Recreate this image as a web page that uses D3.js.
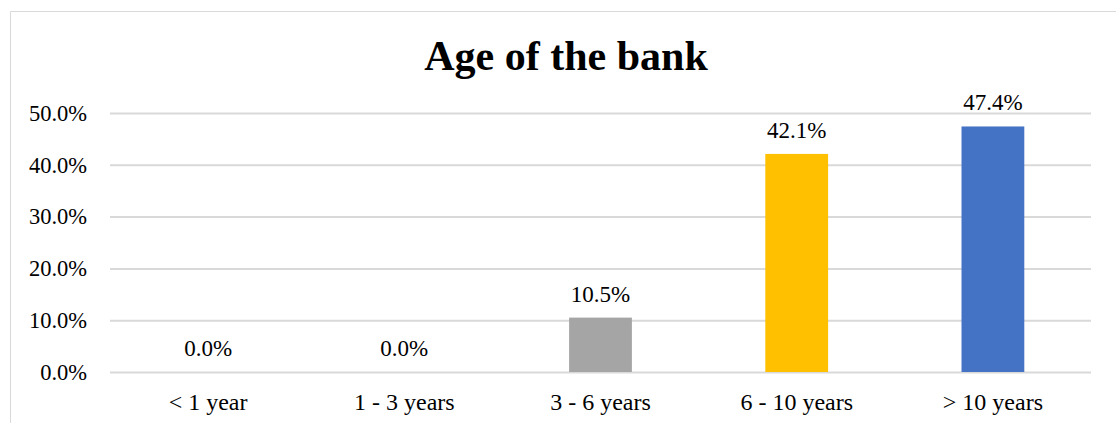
<!DOCTYPE html>
<html><head><meta charset="utf-8">
<script src="https://cdn.jsdelivr.net/npm/d3@7"></script>
<style>body{margin:0;background:#fff}svg{display:block}text{font-family:"Liberation Serif","Times New Roman",serif;fill:#000}</style>
</head><body>
<script>
const categories = ["< 1 year", "1 - 3 years", "3 - 6 years", "6 - 10 years", "> 10 years"];
const values = [0.0, 0.0, 10.5, 42.1, 47.4];
const colors = ["#4472c4", "#ed7d31", "#a5a5a5", "#ffc000", "#4472c4"];
const yTicks = [0, 10, 20, 30, 40, 50];
const title = "Age of the bank";

const W = 1116, H = 423;
const svg = d3.select("body").append("svg").attr("width", W).attr("height", H);

// chart border (top & left visible)
svg.append("path").attr("d", `M10.5,${H} V11.5 H${W}`).attr("fill","none").attr("stroke","#d9d9d9").attr("stroke-width",1);

const x = d3.scaleBand().domain(categories).range([110, 1091]).paddingInner(0.68).paddingOuter(0.34);
const y = d3.scaleLinear().domain([0, 50]).range([372, 113]);

svg.append("text").attr("x", 566).attr("y", 70).attr("text-anchor","middle")
  .attr("font-size", 42).attr("font-weight","bold").text(title);

const gy = svg.append("g").attr("transform","translate(110,0)")
  .call(d3.axisLeft(y).tickValues(yTicks).tickSize(-981).tickFormat(d => d.toFixed(1) + "%").tickPadding(23));
gy.select(".domain").remove();
gy.selectAll(".tick line").attr("stroke","#d9d9d9").attr("stroke-width",2);
gy.selectAll(".tick text").attr("font-size",22.5).attr("fill","#000");

svg.selectAll("rect.bar").data(values).join("rect").attr("class","bar")
  .attr("x",(d,i)=>x(categories[i])).attr("width",x.bandwidth())
  .attr("y",d=>y(d)).attr("height",d=>y(0)-y(d)).attr("fill",(d,i)=>colors[i]);

svg.selectAll("text.lbl").data(values).join("text").attr("class","lbl")
  .attr("x",(d,i)=>x(categories[i])+x.bandwidth()/2).attr("y",d=>y(d)-16)
  .attr("text-anchor","middle").attr("font-size",23).text(d=>d.toFixed(1)+"%");

const gx = svg.append("g").attr("transform","translate(0,372)")
  .call(d3.axisBottom(x).tickSize(0).tickPadding(21));
gx.select(".domain").remove();
gx.selectAll(".tick text").attr("font-size",24).attr("fill","#000");
</script>
</body></html>
